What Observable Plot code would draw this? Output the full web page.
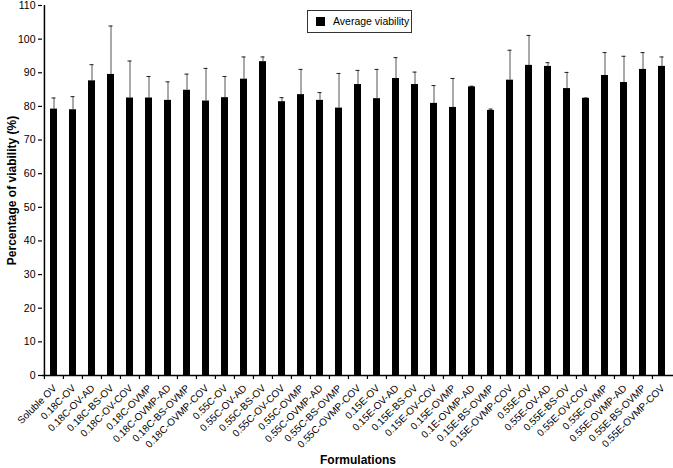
<!DOCTYPE html>
<html>
<head>
<meta charset="utf-8">
<script src="https://cdn.jsdelivr.net/npm/d3@7"></script>
<script src="https://cdn.jsdelivr.net/npm/@observablehq/plot@0.6"></script>
<style>
  body { margin: 0; background: #fff; font-family: "Liberation Sans", Arial, sans-serif; }
  #wrap { position: relative; width: 673px; height: 468px; }
  #legend { position: absolute; left: 307px; top: 10px; width: 103px; height: 21px; border: 1px solid #333; background: #fff; box-sizing: content-box; }
  #legend .sw { position: absolute; left: 8px; top: 6px; width: 9px; height: 9px; background: #000; }
  #legend .lb { position: absolute; left: 25px; top: 4px; font-size: 10.5px; color: #000; white-space: nowrap; }
</style>
</head>
<body>
<div id="wrap"></div>
<script>
const categories = [
  "Soluble OV", "0.18C-OV", "0.18C-OV-AD", "0.18C-BS-OV", "0.18C-OV-COV",
  "0.18C-OVMP", "0.18C-OVMP-AD", "0.18C-BS-OVMP", "0.18C-OVMP-COV",
  "0.55C-OV", "0.55C-OV-AD", "0.55C-BS-OV", "0.55C-OV-COV",
  "0.55C-OVMP", "0.55C-OVMP-AD", "0.55C-BS-OVMP", "0.55C-OVMP-COV",
  "0.15E-OV", "0.15E-OV-AD", "0.15E-BS-OV", "0.15E-OV-COV",
  "0.15E-OVMP", "0.1E-OVMP-AD", "0.15E-BS-OVMP", "0.15E-OVMP-COV",
  "0.55E-OV", "0.55E-OV-AD", "0.55E-BS-OV", "0.55E-OV-COV",
  "0.55E-OVMP", "0.55E-OVMP-AD", "0.55E-BS-OVMP", "0.55E-OVMP-COV"
];
const meanViability = [
  79.2, 79.0, 87.6, 89.5, 82.5,
  82.5, 81.8, 84.8, 81.6,
  82.6, 88.1, 93.3, 81.4,
  83.5, 81.8, 79.5, 86.5,
  82.3, 88.3, 86.5, 80.9,
  79.7, 85.8, 78.8, 87.8,
  92.2, 91.9, 85.3, 82.4,
  89.2, 87.1, 91.0, 91.9
];
const sdViability = [
  3.3, 3.9, 4.8, 14.4, 11.0,
  6.4, 5.5, 4.8, 9.7,
  6.3, 6.6, 1.4, 1.2,
  7.5, 2.3, 10.3, 4.2,
  8.7, 6.2, 3.7, 5.3,
  8.6, 0.2, 0.4, 8.9,
  8.9, 1.1, 4.8, 0.1,
  6.8, 7.8, 5.0, 2.8
];
const yTicks = [0, 10, 20, 30, 40, 50, 60, 70, 80, 90, 100, 110];
const yLabel = "Percentage of viability (%)";
const xLabel = "Formulations";
const legendLabel = "Average viability";

const data = categories.map((name, i) => ({name, mean: meanViability[i], top: meanViability[i] + sdViability[i]}));

const halfStep = 9.56;

const chart = Plot.plot({
  width: 673,
  height: 468,
  marginLeft: 42,
  marginRight: 0,
  marginTop: 5,
  marginBottom: 93,
  style: {fontFamily: "'Liberation Sans', Arial, sans-serif", color: "#000", background: "#fff", overflow: "visible"},
  x: {domain: categories, paddingInner: 0.63, paddingOuter: 0.33, label: null},
  y: {domain: [0, 110], label: null},
  marks: [
    Plot.ruleX(data, {x: "name", y1: "mean", y2: "top", stroke: "#555", strokeWidth: 1}),
    Plot.tickY(data, {x: "name", y: "top", stroke: "#222", strokeWidth: 1, insetLeft: 1.5, insetRight: 1.5}),
    Plot.barY(data, {x: "name", y: "mean", fill: "#000"}),
    Plot.ruleY([0], {stroke: "#000", strokeWidth: 1.5}),
    Plot.ruleX([categories[0]], {x: d => d, y1: 0, y2: 110, dx: -halfStep, stroke: "#000", strokeWidth: 1.5}),
    Plot.axisY({ticks: yTicks, tickSize: 4, tickPadding: 3, fontSize: 10.5, label: null, stroke: "#000", strokeWidth: 1.2}),
    Plot.axisX({tickSize: 4, tickFormat: () => "", dx: -halfStep, label: null, stroke: "#000", strokeWidth: 1.2}),
    Plot.axisX({tickSize: 0, tickPadding: 11, tickRotate: -45, fontSize: 10, label: null, dx: 1}),
    Plot.text([yLabel], {frameAnchor: "left", textAnchor: "middle", lineAnchor: "middle", rotate: -90, dx: -30, fontWeight: "bold", fontSize: 12}),
    Plot.text([xLabel], {frameAnchor: "bottom", textAnchor: "middle", lineAnchor: "middle", dy: 85, fontWeight: "bold", fontSize: 12})
  ]
});

const wrap = document.getElementById("wrap");
wrap.appendChild(chart);
const legend = document.createElement("div");
legend.id = "legend";
legend.innerHTML = '<div class="sw"></div><div class="lb"></div>';
legend.querySelector(".lb").textContent = legendLabel;
wrap.appendChild(legend);
</script>
</body>
</html>
